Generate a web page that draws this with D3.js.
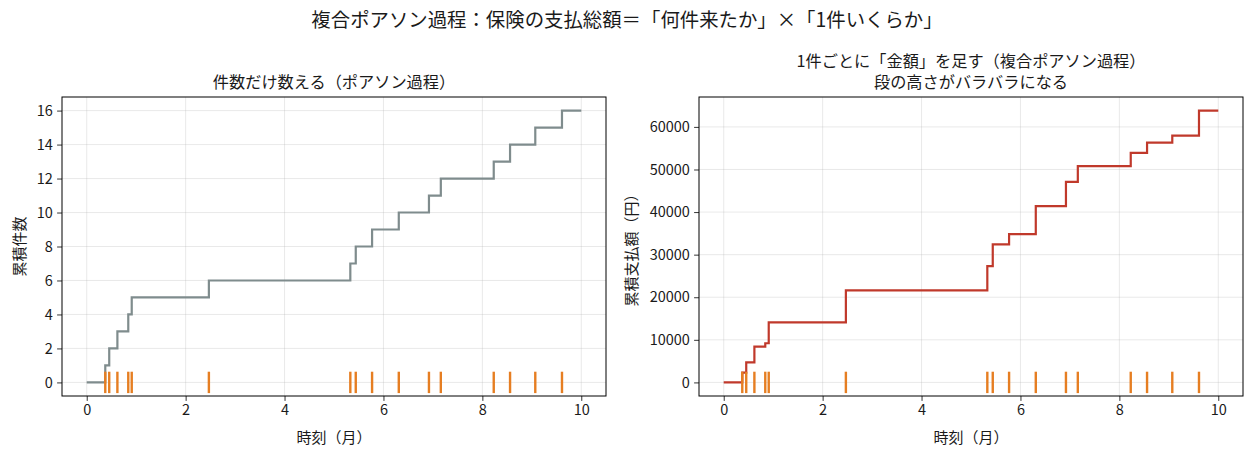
<!DOCTYPE html>
<html><head><meta charset="utf-8">
<script src="https://cdn.jsdelivr.net/npm/d3@7"></script>
<style>
body{margin:0;background:#fff;}
svg text{font-family:"Noto Sans CJK JP","Noto Sans",sans-serif;fill:#1a1a1a;}
</style></head>
<body><svg id="c" width="1253" height="458"></svg>
<script>
// event times (months) and cumulative values after each event
const eventTimes = [0.375, 0.455, 0.62, 0.84, 0.91, 2.47, 5.33, 5.44, 5.77, 6.31, 6.92, 7.16, 8.23, 8.56, 9.07, 9.61];
const cumulativeCounts = [1, 2, 3, 4, 5, 6, 7, 8, 9, 10, 11, 12, 13, 14, 15, 16];
const cumulativeAmounts = [2300, 4700, 8400, 9200, 14100, 21600, 27300, 32400, 34800, 41400, 47100, 50800, 53900, 56300, 57950, 63830];
const tEnd = 10;
const xTicks = [0, 2, 4, 6, 8, 10];
const countTicks = [0, 2, 4, 6, 8, 10, 12, 14, 16];
const amountTicks = [0, 10000, 20000, 30000, 40000, 50000, 60000];

const svg = d3.select("#c");
svg.append("text").attr("x", 627).attr("y", 27).attr("text-anchor", "middle")
  .style("font-size", "19.4px").text("複合ポアソン過程：保険の支払総額＝「何件来たか」×「1件いくらか」");

function panel(opts) {
  const {left, top, w, h, values, yTicks, color, titles, ylabel, yLabelX} = opts;
  const g = svg.append("g");
  const x = d3.scaleLinear().domain([-0.5, 10.5]).range([left, left + w]);
  const maxV = d3.max(values);
  const y = d3.scaleLinear().domain([-0.05 * maxV, 1.05 * maxV]).range([top + h, top]);
  // grid
  g.append("g").selectAll("line").data(xTicks).join("line")
    .attr("x1", d => x(d)).attr("x2", d => x(d)).attr("y1", top).attr("y2", top + h)
    .attr("stroke", "#b0b0b0").attr("stroke-opacity", 0.35).attr("stroke-width", 0.8);
  g.append("g").selectAll("line").data(yTicks).join("line")
    .attr("y1", d => y(d)).attr("y2", d => y(d)).attr("x1", left).attr("x2", left + w)
    .attr("stroke", "#b0b0b0").attr("stroke-opacity", 0.35).attr("stroke-width", 0.8);
  // step line
  const pts = [[0, 0]].concat(eventTimes.map((t, i) => [t, values[i]])).concat([[tEnd, values[values.length - 1]]]);
  g.append("path").datum(pts)
    .attr("d", d3.line().x(d => x(d[0])).y(d => y(d[1])).curve(d3.curveStepAfter))
    .attr("fill", "none").attr("stroke", color).attr("stroke-width", 2.2);
  // rug
  g.append("g").selectAll("line").data(eventTimes).join("line")
    .attr("x1", d => x(d)).attr("x2", d => x(d)).attr("y1", y(0) - 10.7).attr("y2", y(0) + 10.7)
    .attr("stroke", "#e67e22").attr("stroke-width", 2.4);
  // axes
  const xa = g.append("g").attr("transform", `translate(0,${top + h})`)
    .call(d3.axisBottom(x).tickValues(xTicks).tickSize(4.9).tickPadding(4.2).tickFormat(d3.format("d")));
  const ya = g.append("g").attr("transform", `translate(${left},0)`)
    .call(d3.axisLeft(y).tickValues(yTicks).tickSize(4.9).tickPadding(4.2).tickFormat(d3.format("d")));
  [xa, ya].forEach(a => {
    a.select(".domain").remove();
    a.selectAll("line").attr("stroke", "#000").attr("stroke-width", 0.8);
    a.selectAll("text").style("font-size", "14.5px").attr("fill", "#1a1a1a").style("font-family", '"Noto Sans CJK JP",sans-serif');
  });
  g.append("rect").attr("x", left).attr("y", top).attr("width", w).attr("height", h)
    .attr("fill", "none").attr("stroke", "#000").attr("stroke-width", 1);
  // titles
  titles.forEach((t, i) => {
    g.append("text").attr("x", left + w / 2).attr("y", top - 9 - (titles.length - 1 - i) * 21)
      .attr("text-anchor", "middle").style("font-size", "16.2px").text(t);
  });
  g.append("text").attr("x", left + w / 2).attr("y", top + h + 47).attr("text-anchor", "middle")
    .style("font-size", "15px").text("時刻（月）");
  g.append("text").attr("transform", `translate(${yLabelX},${top + h / 2}) rotate(-90)`)
    .attr("text-anchor", "middle").style("font-size", "15px").text(ylabel);
}

panel({left: 62, top: 97, w: 544, h: 299, values: cumulativeCounts, yTicks: countTicks,
  color: "#7f8c8d", titles: ["件数だけ数える（ポアソン過程）"], ylabel: "累積件数", yLabelX: 25});
panel({left: 699, top: 97, w: 544, h: 299, values: cumulativeAmounts, yTicks: amountTicks,
  color: "#c0392b", titles: ["1件ごとに「金額」を足す（複合ポアソン過程）", "段の高さがバラバラになる"],
  ylabel: "累積支払額（円）", yLabelX: 637});
</script></body></html>
